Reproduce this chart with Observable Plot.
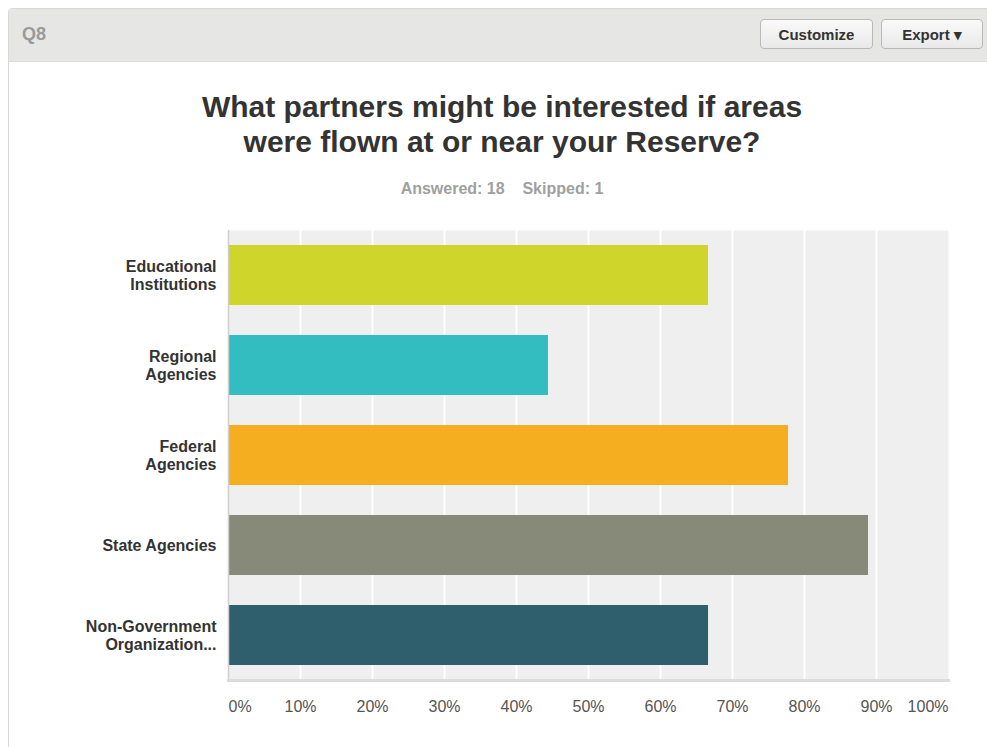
<!DOCTYPE html>
<html>
<head>
<meta charset="utf-8">
<script src="https://cdn.jsdelivr.net/npm/d3@7"></script>
<script src="https://cdn.jsdelivr.net/npm/@observablehq/plot@0.6"></script>
<style>
  html, body { margin: 0; padding: 0; background: #fff; overflow: hidden; }
  body { width: 987px; height: 747px; position: relative; font-family: "Liberation Sans", Arial, Helvetica, sans-serif; }
  #panel { position: absolute; left: 8px; top: 8px; width: 1000px; height: 760px; border: 1px solid #d8d8d8; border-radius: 4px; background: #fff; }
  #header { position: absolute; left: 0; top: 0; right: 0; height: 52px; background: #e6e6e4; border-bottom: 1px solid #dcdcdc; border-radius: 4px 4px 0 0; }
  #q { position: absolute; left: 13px; top: 15px; font-size: 18px; font-weight: bold; color: #9a9a9a; }
  .btn { position: absolute; top: 10px; height: 30px; line-height: 30px; border: 1px solid #b9b9b9; border-radius: 4px; background: linear-gradient(#fafafa, #e9e9e9); font-size: 15px; font-weight: bold; color: #333; text-align: center; box-sizing: border-box; }
  #title { position: absolute; left: 0; width: 1004px; top: 89px; text-align: center; font-size: 30px; font-weight: bold; color: #333; line-height: 35px; }
  #sub { position: absolute; left: 0; width: 1004px; top: 180px; text-align: center; font-size: 16px; font-weight: bold; color: #a0a0a0; }
  #chart { position: absolute; left: 0; top: 220px; }
</style>
</head>
<body>
<div id="panel">
  <div id="header">
    <div id="q">Q8</div>
    <div class="btn" style="left:751px; width:113px;">Customize</div>
    <div class="btn" style="left:872px; width:102px;">Export &#9662;</div>
  </div>
</div>
<div id="title">What partners might be interested if areas<br>were flown at or near your Reserve?</div>
<div id="sub">Answered: 18&nbsp;&nbsp;&nbsp;&nbsp;Skipped: 1</div>
<div id="chart"></div>
<script>
const categories = ["Educational Institutions", "Regional Agencies", "Federal Agencies", "State Agencies", "Non-Government Organizations"];
const tickLabels = ["Educational\nInstitutions", "Regional\nAgencies", "Federal\nAgencies", "State Agencies", "Non-Government\nOrganization..."];
const values = [66.67, 44.44, 77.78, 88.89, 66.67];
const colors = ["#cfd52a", "#33bdc0", "#f5ae1f", "#888a79", "#2f5f6c"];
const xTicks = [0, 10, 20, 30, 40, 50, 60, 70, 80, 90, 100];

const data = categories.map((c, i) => ({category: c, value: values[i], color: colors[i]}));
const labelOf = new Map(categories.map((c, i) => [c, tickLabels[i]]));

const chart = Plot.plot({
  width: 987,
  height: 500,
  marginLeft: 228,
  marginRight: 39,
  marginTop: 10,
  marginBottom: 40,
  style: {fontFamily: "'Liberation Sans', Arial, Helvetica, sans-serif", background: "transparent"},
  x: {domain: [0, 100]},
  y: {domain: categories, paddingInner: 1/3, paddingOuter: 1/6},
  marks: [
    Plot.frame({fill: "#efefef", stroke: null}),
    Plot.gridX(xTicks.slice(1, -1), {stroke: "#ffffff", strokeOpacity: 1, strokeWidth: 2}),
    Plot.barX(data, {x: "value", y: "category", fill: "color"}),
    Plot.ruleX([0], {stroke: "#cfcfcf", strokeWidth: 1.5}),
    Plot.frame({anchor: "bottom", stroke: "#dcdcdc", strokeWidth: 3}),
    Plot.axisY({tickSize: 0, tickPadding: 12, fontSize: 16, fontWeight: "bold", fill: "#333", lineHeight: 1.12, tickFormat: d => labelOf.get(d), label: null}),
    Plot.axisX(xTicks.slice(1, -1), {tickSize: 0, tickPadding: 20, fontSize: 16, fill: "#555", tickFormat: d => d + "%", label: null}),
    Plot.axisX([xTicks[0]], {tickSize: 0, tickPadding: 20, fontSize: 16, fill: "#555", textAnchor: "start", tickFormat: d => d + "%", label: null}),
    Plot.axisX([xTicks[xTicks.length - 1]], {tickSize: 0, tickPadding: 20, fontSize: 16, fill: "#555", textAnchor: "end", tickFormat: d => d + "%", label: null})
  ]
});
document.getElementById("chart").appendChild(chart);
</script>
</body>
</html>
